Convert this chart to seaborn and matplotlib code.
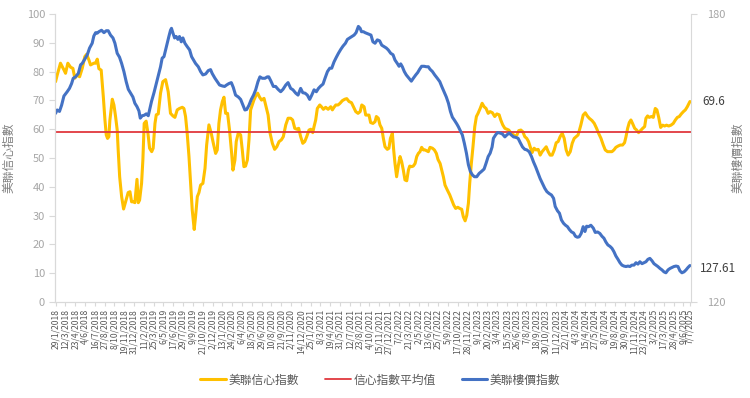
import matplotlib
matplotlib.use("Agg")
import matplotlib.pyplot as plt
import seaborn as sns
from matplotlib.lines import Line2D

# weeks counted from 29/1/2018 (weekly data up to 7/7/2025)
conf_wk = [
    0.0, 1.0, 3.0, 5.1, 6.1, 7.5, 9.2, 10.6, 11.8, 13.2,
    14.7, 16.3, 17.9, 19.0, 20.4, 21.4, 23.4, 24.5, 25.5, 26.5,
    27.9, 29.2, 30.2, 31.0, 31.8, 32.6, 33.2, 34.7, 35.7, 36.7,
    37.7, 38.3, 39.2, 40.4, 41.6, 42.8, 44.4, 45.5, 46.5, 47.5,
    48.5, 49.8, 50.6, 51.4, 52.6, 53.4, 54.2, 55.4, 56.5, 57.5,
    58.8, 59.7, 60.8, 61.6, 62.8,
    64.2, 65.6, 67.3, 68.9, 70.3, 71.8, 73.0, 74.4, 75.8, 77.5,
    78.5, 79.5, 80.5, 81.6, 82.6, 83.6, 84.8, 85.6, 86.7, 87.7,
    88.7, 90.1, 91.4, 92.4, 93.8, 95.2, 96.5, 97.9, 98.9, 99.9,
    100.9, 102.0, 103.0, 104.0, 105.2, 106.4, 107.7, 108.5, 109.7, 110.5,
    111.8, 113.2, 114.2, 115.2, 116.2, 117.3, 118.3, 119.3, 120.3, 121.3,
    122.4, 123.6, 124.8, 126.0, 127.5,
    128.5, 130.0, 131.2, 132.6, 134.0, 135.3, 136.7, 138.1, 139.3, 140.8,
    142.2, 143.8, 145.0, 146.3, 147.5, 148.7, 149.9, 151.2, 152.4, 153.6,
    155.0, 156.1, 157.3, 158.1, 159.1, 160.1, 161.6, 162.6, 163.8, 165.2,
    166.7, 168.3, 169.3, 170.3, 171.4, 172.8, 174.0, 175.4, 176.9, 178.1,
    179.5, 181.0, 182.2, 183.6, 185.0, 186.3, 187.3, 188.7, 189.7,
    191.7, 192.7, 194.1, 195.4, 196.2, 197.4, 198.4, 199.5, 200.5, 201.5,
    202.9, 203.9, 204.8, 206.0, 206.8, 207.6, 208.6, 209.7, 210.7, 211.7,
    212.7, 213.7, 214.8, 215.8, 216.6, 217.8, 218.8, 219.9, 220.9, 221.9,
    222.9, 223.9, 225.0, 226.0, 227.0, 228.0, 229.0, 230.5, 231.7, 232.9,
    233.9, 235.2, 236.2, 237.2, 238.2, 239.6, 241.1, 242.3, 243.5, 244.7,
    246.0, 247.2, 248.4, 249.4, 250.5, 251.5, 252.5, 253.3, 254.3, 255.3,
    256.4, 257.4,
    258.4, 259.7, 260.9, 262.1, 263.3, 264.6, 265.8, 267.2, 268.6, 269.9,
    271.3, 272.3, 273.5, 274.8, 276.0, 277.2, 278.4, 279.7, 280.9, 282.1,
    283.3, 284.6, 285.8, 287.0, 288.2, 289.3, 290.3, 291.5, 292.7, 293.9,
    295.2, 296.4, 297.6, 298.8, 300.1, 301.3, 302.5, 303.7, 305.0, 306.2,
    307.4, 308.6, 309.9, 311.1, 312.3, 313.5, 314.8, 316.0, 317.2, 318.4,
    319.6,
    321.3, 322.7, 324.0, 325.2, 326.4, 328.1, 329.5, 330.9, 332.1, 333.6,
    335.0, 336.2, 337.6, 339.1, 340.3, 341.5, 342.7, 344.2, 345.4, 346.8,
    348.0, 348.9, 349.9, 350.9, 351.9, 352.9, 354.2, 355.4, 356.6, 357.8,
    359.1, 360.3, 361.1, 362.1, 363.1, 364.4, 365.6, 366.8, 367.8, 368.9,
    370.1, 371.3, 372.5, 373.7, 375.0, 376.4, 377.8, 379.1, 380.3, 381.5,
    382.7, 384.0, 385.2, 386.4, 388.0,
]
conf_val = [
    76.5, 78.8, 82.9, 80.6, 79.4, 82.9, 81.5, 81.1, 77.7, 78.8,
    78.2, 81.1, 85.2, 86.0, 84.0, 82.3, 82.9, 82.9, 84.3, 81.0,
    80.5, 71.3, 63.2, 58.0, 56.8, 57.4, 63.0, 70.4, 68.4, 64.4,
    59.7, 52.8, 43.5, 36.6, 32.3, 34.8, 38.0, 38.3, 34.8, 34.8,
    34.5, 42.6, 34.5, 35.4, 41.2, 49.3, 62.0, 62.8, 58.6, 53.4,
    52.2, 53.4, 62.0, 65.0, 65.3,
    72.5, 76.5, 77.2, 73.0, 65.5, 64.6, 64.1, 66.7, 67.2, 67.6,
    67.2, 64.4, 58.6, 50.5, 41.2, 31.9, 25.2, 29.6, 36.6, 38.0,
    40.6, 41.2, 46.4, 54.5, 61.5, 58.6, 55.1, 51.6, 52.8, 62.0,
    66.7, 69.6, 71.1, 65.5, 65.5, 59.7, 51.6, 45.8, 49.3, 55.7,
    58.8, 58.0, 52.8, 47.0, 47.2, 49.3, 56.3, 66.7, 68.4, 70.1,
    71.5, 72.5, 71.1, 70.1, 70.7,
    68.4, 64.9, 58.6, 55.1, 53.0, 53.9, 55.7, 56.3, 57.4, 61.5,
    63.8, 63.8, 63.2, 60.3, 60.0, 60.3, 57.4, 55.1, 55.7, 57.4,
    59.7, 60.0, 58.8, 60.9, 63.2, 67.2, 68.4, 67.8, 66.9, 67.6,
    66.9, 67.8, 66.7, 67.6, 68.4, 68.4, 69.0, 69.9, 70.4, 70.6,
    69.6, 69.2, 67.8, 66.1, 65.5, 66.1, 68.4, 67.8, 64.9,
    64.9, 62.3, 62.0, 62.6, 64.4, 63.8, 61.5, 60.3, 56.8, 53.9,
    53.0, 53.4, 56.8, 58.6, 52.8, 48.1, 43.5, 47.6, 50.5, 48.7,
    45.8, 42.4, 42.1, 45.8, 47.2, 47.0, 47.2, 48.1, 50.5, 51.6,
    52.2, 53.7, 52.8, 52.8, 52.5, 52.2, 53.7, 53.4, 52.8, 51.6,
    49.5, 48.1, 45.8, 43.5, 40.6, 38.9, 37.2, 35.4, 33.7, 32.5,
    32.9, 32.5, 32.2, 29.6, 28.2, 30.1, 34.3, 41.2, 48.1, 53.9,
    60.9, 64.4,
    65.5, 67.2, 69.0, 67.8, 67.2, 65.5, 66.1, 65.7, 64.4, 65.3,
    65.0, 63.2, 61.5, 60.3, 60.0, 59.7, 58.8, 58.3, 57.6, 57.9,
    59.5, 59.7, 59.1, 57.4, 56.8, 55.7, 53.9, 51.9, 53.4, 52.8,
    53.0, 51.0, 52.2, 53.0, 53.9, 52.2, 51.0, 51.0, 52.8, 55.3,
    55.7, 57.4, 58.6, 56.8, 52.8, 51.0, 52.2, 55.1, 56.8, 57.4,
    58.0,
    61.5, 64.9, 65.7, 64.6, 63.8, 63.0, 62.0, 60.3, 58.6, 56.8,
    54.5, 52.8, 52.2, 52.2, 52.2, 52.8, 53.7, 54.2, 54.5, 54.5,
    55.3, 57.4, 60.3, 62.3, 63.2, 62.0, 60.3, 59.7, 58.8, 59.5,
    60.3, 60.9, 63.8, 64.6, 64.1, 64.4, 64.1, 67.2, 66.7, 64.1,
    60.6, 61.4, 61.1, 61.4, 61.1, 61.4, 62.0, 63.2, 64.1, 64.4,
    65.3, 66.1, 66.7, 67.8, 69.6,
]
conf_mean = 59.0

hpi_wk = [
    0.0, 1.0, 2.4, 3.7, 5.1, 7.1, 8.5, 9.8, 10.8, 12.2,
    13.9, 15.3, 16.3, 17.9, 19.4, 20.8, 22.4, 23.4, 24.5, 25.5,
    26.5, 28.1, 29.6, 31.0, 32.2, 33.6, 35.1, 36.3, 37.7, 39.1,
    40.4, 41.8, 43.2, 44.5, 45.9, 47.3, 48.5, 49.8, 51.0, 51.8,
    53.0, 54.2, 55.5, 56.7, 57.5, 58.7, 60.2, 61.6,
    63.2, 64.2, 65.2, 66.3, 67.3, 68.3, 69.3, 70.3, 70.9, 71.8,
    72.8, 73.8, 74.8, 75.8, 76.9, 77.9, 79.1, 80.5, 82.0, 83.2,
    84.4, 85.6, 87.3, 88.7, 90.1, 91.8, 93.4, 94.8, 95.8, 97.5,
    98.9, 100.3, 102.0, 103.4, 104.6, 106.0, 107.5, 108.7, 110.1, 111.8,
    113.2, 114.6, 115.8, 116.9, 118.3, 119.7, 121.1, 122.4, 123.8, 125.0,
    126.4, 128.1, 129.5,
    130.4, 131.6, 133.2, 134.6, 136.1, 137.7, 139.1, 140.8, 142.2, 143.8,
    145.2, 146.9, 148.3, 149.9, 151.2, 152.6, 154.0, 155.4, 156.7, 158.1,
    159.5, 160.8, 162.2, 163.6, 164.8, 166.3, 167.7, 168.9, 170.3, 171.6,
    173.0, 174.4, 175.8, 177.3, 178.5, 179.9, 181.4, 182.6, 183.8, 185.2,
    186.3, 187.1, 188.3, 189.3, 190.7,
    192.9, 194.1, 195.4, 196.8, 198.2, 199.5, 200.9, 202.3, 203.5, 205.0,
    206.4, 207.6, 209.0, 210.1, 211.1, 212.1, 213.3, 214.5, 216.2, 217.6,
    218.8, 220.3, 221.5, 222.7, 223.9, 225.4, 226.8, 228.0, 229.0, 230.5,
    231.9, 233.5, 235.0, 236.2, 237.6, 239.0, 240.3, 241.5, 242.7, 244.1,
    245.4, 246.4, 247.4, 248.8, 250.0, 251.3, 252.5, 253.7, 254.9, 256.2,
    257.6, 259.1, 260.5, 262.1, 263.3, 264.6, 265.8, 267.0, 267.8, 269.1,
    270.3, 271.9, 273.3, 274.8, 276.0, 277.4, 278.8, 280.1, 281.5, 282.9,
    284.2, 285.6, 287.0, 288.2, 289.7, 291.1, 292.3, 293.7, 295.2, 296.4,
    297.8, 299.2, 300.5, 301.9, 303.3, 304.6, 305.6, 307.0, 308.2, 309.4,
    310.7, 311.9, 313.1, 314.3, 315.6, 316.8, 318.0, 319.2,
    320.3, 321.5, 322.7, 323.8, 324.8, 326.0, 327.4, 328.9, 330.1, 331.5,
    332.9, 334.2, 335.4, 336.6, 337.8, 339.1, 340.3, 341.5, 342.7, 344.0,
    345.2, 346.4, 347.6, 348.9, 350.1, 351.3, 352.5, 353.8, 355.0, 356.2,
    357.4, 358.7, 359.9, 361.1, 362.3, 363.5, 364.8, 366.0, 367.2, 368.4,
    369.7, 370.9, 372.1, 373.3, 374.6, 375.8, 377.0, 378.2, 379.5, 380.7,
    381.9, 383.1, 384.4, 385.6, 386.8, 388.0,
]
hpi_val = [
    159.3, 160.0, 159.7, 161.0, 162.9, 163.8, 164.5, 165.5, 166.6, 166.9,
    167.6, 169.4, 169.7, 170.6, 171.5, 172.9, 173.9, 175.4, 176.1, 176.0,
    176.3, 176.6, 176.1, 176.5, 176.5, 175.6, 175.0, 173.9, 171.8, 171.0,
    169.7, 168.0, 165.9, 164.3, 163.5, 162.7, 161.4, 160.7, 159.8, 158.3,
    158.8, 158.9, 159.2, 158.8, 160.0, 161.8, 163.6, 165.5,
    167.6, 169.0, 170.8, 171.1, 172.5, 173.9, 175.3, 176.6, 177.0, 176.0,
    175.0, 175.3, 174.7, 175.3, 174.2, 175.0, 173.9, 173.2, 172.5, 171.1,
    170.4, 169.7, 169.0, 168.0, 167.3, 167.5, 168.2, 168.4, 167.6, 166.6,
    165.9, 165.2, 165.0, 164.9, 165.2, 165.5, 165.7, 164.7, 163.1, 162.7,
    162.2, 161.0, 160.0, 160.1, 161.0, 162.2, 163.1, 164.2, 165.9, 166.9,
    166.6, 166.6, 166.9,
    166.9, 166.1, 164.9, 164.9, 164.3, 163.8, 164.3, 165.2, 165.7, 164.5,
    164.2, 163.5, 163.1, 164.5, 163.6, 163.5, 163.1, 162.2, 163.1, 164.2,
    163.8, 164.5, 165.0, 165.4, 166.6, 168.0, 168.7, 168.7, 170.0, 170.9,
    171.8, 172.6, 173.3, 173.9, 174.7, 175.0, 175.3, 175.6, 176.1, 177.4,
    177.0, 176.3, 176.3, 176.1, 175.9,
    175.6, 174.2, 173.9, 174.6, 174.4, 173.5, 173.2, 172.9, 172.5, 171.8,
    171.5, 170.4, 169.7, 169.1, 169.6, 169.0, 168.0, 167.3, 166.6, 166.0,
    166.6, 167.3, 167.8, 168.5, 169.1, 169.1, 169.0, 169.0, 168.5, 168.0,
    167.3, 166.6, 165.9, 164.9, 163.8, 162.7, 161.4, 159.7, 158.5, 157.8,
    157.1, 156.5, 155.8, 154.8, 153.1, 151.0, 148.6, 147.2, 146.5, 146.1,
    146.1, 146.8, 147.2, 147.7, 148.9, 150.3, 151.0, 152.3, 154.1, 154.8,
    155.3, 155.2, 155.0, 154.4, 154.8, 155.2, 154.8, 154.4, 154.3, 154.1,
    153.2, 152.3, 151.8, 151.7, 151.3, 150.3, 149.2, 148.1, 146.8, 145.7,
    144.7, 143.7, 143.0, 142.6, 142.3, 141.6, 139.9, 139.0, 138.5, 137.1,
    136.4, 136.0, 135.7, 135.1, 134.6, 134.4, 133.7, 133.5,
    133.6, 134.3, 135.7, 134.7, 135.8, 135.7, 136.0, 135.4, 134.5, 134.6,
    134.3, 133.7, 133.3, 132.5, 131.9, 131.6, 131.2, 130.5, 129.6, 128.9,
    128.2, 127.7, 127.5, 127.4, 127.5, 127.4, 127.7, 127.7, 128.2, 127.9,
    128.4, 128.0, 128.2, 128.4, 128.9, 129.1, 128.6, 128.0, 127.7, 127.4,
    127.0, 126.7, 126.3, 126.1, 126.7, 127.0, 127.2, 127.4, 127.5, 127.4,
    126.5, 126.1, 126.3, 126.7, 127.2, 127.61,
]

tick_labels = [
    "29/1/2018", "12/3/2018", "23/4/2018", "4/6/2018", "16/7/2018", "27/8/2018",
    "8/10/2018", "19/11/2018", "31/12/2018", "11/2/2019", "25/3/2019", "6/5/2019",
    "17/6/2019", "29/7/2019", "9/9/2019", "21/10/2019", "2/12/2019", "13/1/2020",
    "24/2/2020", "6/4/2020", "18/5/2020", "29/6/2020", "10/8/2020", "21/9/2020",
    "2/11/2020", "14/12/2020", "25/1/2021", "8/3/2021", "19/4/2021", "31/5/2021",
    "12/7/2021", "23/8/2021", "4/10/2021", "15/11/2021", "27/12/2021", "7/2/2022",
    "21/3/2022", "2/5/2022", "13/6/2022", "25/7/2022", "5/9/2022", "17/10/2022",
    "28/11/2022", "9/1/2023", "20/2/2023", "3/4/2023", "15/5/2023", "26/6/2023",
    "7/8/2023", "18/9/2023", "30/10/2023", "11/12/2023", "22/1/2024", "4/3/2024",
    "15/4/2024", "27/5/2024", "8/7/2024", "19/8/2024", "30/9/2024", "11/11/2024",
    "23/12/2024", "3/2/2025", "17/3/2025", "28/4/2025", "9/6/2025", "7/7/2025",
]

YELLOW = "#FFC000"
RED = "#E0383E"
BLUE = "#4472C4"
GRID = "#D9D9D9"

sns.set_style("white")
plt.rcParams["font.family"] = ["Noto Sans CJK TC", "DejaVu Sans"]

fig = plt.figure(figsize=(7.5, 3.98), dpi=100)
ax = fig.add_axes([0.073, 0.241, 0.848, 0.724])
ax2 = ax.twinx()

sns.lineplot(x=conf_wk, y=conf_val, ax=ax, color=YELLOW, linewidth=2.2, legend=False)
ax.axhline(conf_mean, color=RED, linewidth=1.3)
sns.lineplot(x=hpi_wk, y=hpi_val, ax=ax2, color=BLUE, linewidth=2.2, legend=False)

ax.set_xlim(-0.5, 388.5)
ax.set_ylim(0, 100)
ax2.set_ylim(120, 180)
ax.set_yticks(range(0, 101, 10))
ax2.set_yticks([120, 180])

# x ticks every 6 weeks plus the last week
tick_pos = list(range(0, 6 * (len(tick_labels) - 1), 6)) + [conf_wk[-1]]
ax.set_xticks(tick_pos)
ax.set_xticklabels(tick_labels, rotation=90, fontsize=6.2, color="#595959")

ax.tick_params(axis="y", left=True, length=4, color=GRID, labelsize=8, labelcolor="#A6A6A6", pad=3)
ax.tick_params(axis="x", bottom=True, length=3, color=GRID, pad=2)
ax2.tick_params(axis="y", right=True, length=4, color=GRID, labelsize=8, labelcolor="#A6A6A6", pad=8)

for a in (ax, ax2):
    a.spines["top"].set_visible(False)
    for s in ("left", "right", "bottom"):
        a.spines[s].set_color(GRID)
ax.spines["right"].set_visible(False)

ax.set_ylabel("美聯信心指數", fontsize=8.5, color="#7F7F7F", labelpad=8)
ax2.set_ylabel("美聯樓價指數", fontsize=8.5, color="#7F7F7F", labelpad=4)
ax.set_xlabel("")

ax.annotate(f"{conf_val[-1]}", xy=(conf_wk[-1], conf_val[-1]), xytext=(9, 0),
            textcoords="offset points", va="center", fontsize=8.5, color="#404040")
ax2.annotate(f"{hpi_val[-1]:.2f}", xy=(hpi_wk[-1], hpi_val[-1]), xytext=(7, -2),
             textcoords="offset points", va="center", fontsize=8.5, color="#404040")

handles = [
    Line2D([], [], color=YELLOW, linewidth=2.2),
    Line2D([], [], color=RED, linewidth=1.3),
    Line2D([], [], color=BLUE, linewidth=2.2),
]
labels = ["美聯信心指數", "信心指數平均值", "美聯樓價指數"]
fig.legend(handles, labels, loc="center", bbox_to_anchor=(0.507, 0.045), ncol=3,
           frameon=False, fontsize=8.5, labelcolor="#595959", handlelength=2.2,
           handletextpad=0.2, columnspacing=2.2)

fig.savefig("out.png", dpi=100)
